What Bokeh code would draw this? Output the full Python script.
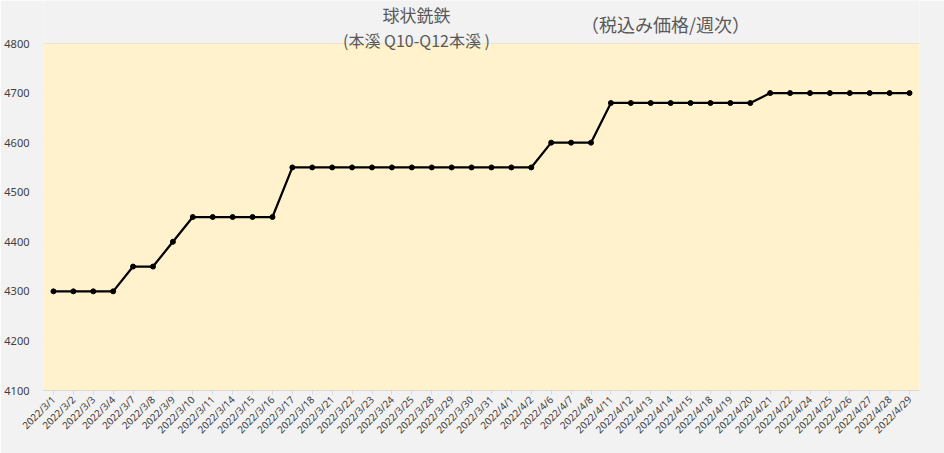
from bokeh.plotting import figure
from bokeh.models import FactorRange, Range1d, Label, FixedTicker, ColumnDataSource, BoxAnnotation
from bokeh.embed import file_html
from bokeh.resources import INLINE

dates = ["2022/3/1", "2022/3/2", "2022/3/3", "2022/3/4", "2022/3/7", "2022/3/8", "2022/3/9",
         "2022/3/10", "2022/3/11", "2022/3/14", "2022/3/15", "2022/3/16", "2022/3/17", "2022/3/18",
         "2022/3/21", "2022/3/22", "2022/3/23", "2022/3/24", "2022/3/25", "2022/3/28", "2022/3/29",
         "2022/3/30", "2022/3/31", "2022/4/1", "2022/4/2", "2022/4/6", "2022/4/7", "2022/4/8",
         "2022/4/11", "2022/4/12", "2022/4/13", "2022/4/14", "2022/4/15", "2022/4/18", "2022/4/19",
         "2022/4/20", "2022/4/21", "2022/4/22", "2022/4/24", "2022/4/25", "2022/4/26", "2022/4/27",
         "2022/4/28", "2022/4/29"]
prices = [4300, 4300, 4300, 4300, 4350, 4350, 4400,
          4450, 4450, 4450, 4450, 4450, 4550, 4550,
          4550, 4550, 4550, 4550, 4550, 4550, 4550,
          4550, 4550, 4550, 4550, 4600, 4600, 4600,
          4680, 4680, 4680, 4680, 4680, 4680, 4680,
          4680, 4700, 4700, 4700, 4700, 4700, 4700,
          4700, 4700]
y_ticks = [4100, 4200, 4300, 4400, 4500, 4600, 4700, 4800]
y_min, y_max = 4100, 4800
title_main = "球状銑鉄"
title_sub = "(本溪 Q10-Q12本溪 )"
title_note = "（税込み価格/週次）"

src = ColumnDataSource(dict(d=dates, v=prices))

# frame spans from canvas top to the plot bottom; the top strip holds the titles
units_per_px = (y_max - y_min) / 347.0
top = y_max + 43 * units_per_px

p = figure(width=944, height=453, output_backend="svg", toolbar_location=None,
           title_location=None,
           x_range=FactorRange(factors=dates, range_padding=0),
           y_range=Range1d(y_min, top))
p.min_border_left = 43
p.min_border_right = 25
p.min_border_top = 0
p.min_border_bottom = 63
p.border_fill_color = "#F2F2F2"
p.background_fill_color = "#F2F2F2"
p.outline_line_color = None

p.add_layout(BoxAnnotation(bottom=y_min, top=y_max, fill_color="#FFF2CC", fill_alpha=1,
                           line_color=None, level="underlay"))

p.line("d", "v", source=src, line_color="black", line_width=2.25)
p.scatter("d", "v", source=src, size=5, color="black")

p.xgrid.grid_line_color = None
p.ygrid.grid_line_color = "#D9D9D9"
p.ygrid.ticker = FixedTicker(ticks=y_ticks)

p.yaxis.ticker = FixedTicker(ticks=y_ticks)
p.yaxis.axis_line_color = None
p.yaxis.major_tick_line_color = None
p.yaxis.minor_tick_line_color = None
p.yaxis.major_label_text_font = "Noto Sans"
p.yaxis.major_label_text_font_size = "11px"
p.yaxis.major_label_text_color = "#404040"
p.yaxis.major_label_standoff = 8

p.xaxis.axis_line_color = "#D9D9D9"
p.xaxis.major_tick_line_color = "#D9D9D9"
p.xaxis.major_tick_out = 4
p.xaxis.major_tick_in = 0
p.xaxis.major_label_orientation = 0.785
p.xaxis.major_label_text_font = "Noto Sans"
p.xaxis.major_label_text_font_size = "10px"
p.xaxis.major_label_text_color = "#404040"
p.xaxis.major_label_standoff = 3

def ycoord(py):
    return y_max + (43 - py) * units_per_px

def xcoord(px):
    return (px - 43) / (876.0 / len(dates))

for txt, cx, cy, fs in [(title_main, 416, 14, "17px"),
                        (title_sub, 416, 39, "16px"),
                        (title_note, 665, 23, "18px")]:
    p.add_layout(Label(x=xcoord(cx), y=ycoord(cy), text=txt, text_align="center",
                       text_baseline="middle", text_font="Noto Sans CJK JP",
                       text_font_size=fs, text_color="#595959"))

open("out.html", "w").write(file_html(p, INLINE))
